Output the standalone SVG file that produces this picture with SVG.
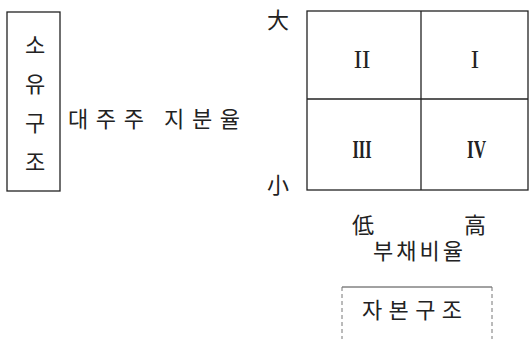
<svg xmlns="http://www.w3.org/2000/svg" width="529" height="339" viewBox="0 0 529 339">
<style>
.k{font-family:"Noto Sans CJK KR","Noto Sans CJK SC",sans-serif;font-size:22px;fill:#222;text-anchor:middle;dominant-baseline:central}
.r{font-family:"Liberation Serif","Times New Roman",serif;fill:#222;text-anchor:middle}
.ln{fill:none;stroke:#222;stroke-width:1.3}
</style>
<rect width="529" height="339" fill="#fff"/>
<g id="ownership">
<rect class="ln" x="7" y="12" width="53" height="179"/>
<text class="k" x="35" y="43">소</text>
<text class="k" x="35" y="82">유</text>
<text class="k" x="35" y="121">구</text>
<text class="k" x="35" y="160">조</text>
</g>
<g id="share-label">
<text class="k" x="68" y="117" style="text-anchor:start" textLength="172" lengthAdjust="spacing">대주주 지분율</text>
</g>
<g id="matrix">
<rect class="ln" x="307" y="11" width="221" height="179"/>
<line class="ln" x1="421" y1="11" x2="421" y2="190"/>
<line class="ln" x1="307" y1="99" x2="528" y2="99"/>
<text class="r" font-size="25" x="362" y="68">II</text>
<text class="r" font-size="25" x="475" y="68">I</text>
<text class="r" font-size="25" font-weight="bold" x="362" y="158" textLength="19" lengthAdjust="spacingAndGlyphs">III</text>
<text class="r" font-size="25" font-weight="bold" x="476.5" y="158" textLength="19" lengthAdjust="spacingAndGlyphs">IV</text>
</g>
<g id="axis-labels">
<text class="k" x="278" y="18">大</text>
<text class="k" x="278" y="183">小</text>
<text class="k" x="363" y="223">低</text>
<text class="k" x="475" y="223">高</text>
<text class="k" x="418" y="249" textLength="90" lengthAdjust="spacing">부채비율</text>
</g>
<g id="capital">
<line x1="342" y1="287" x2="492" y2="287" stroke="#444" stroke-width="1"/>
<line x1="342" y1="287" x2="342" y2="339" stroke="#777" stroke-width="1" stroke-dasharray="4 3"/>
<line x1="492" y1="287" x2="492" y2="339" stroke="#777" stroke-width="1" stroke-dasharray="4 3"/>
<text class="k" x="412" y="308" textLength="100" lengthAdjust="spacing">자본구조</text>
</g>
<g id="connectors"></g>
</svg>
